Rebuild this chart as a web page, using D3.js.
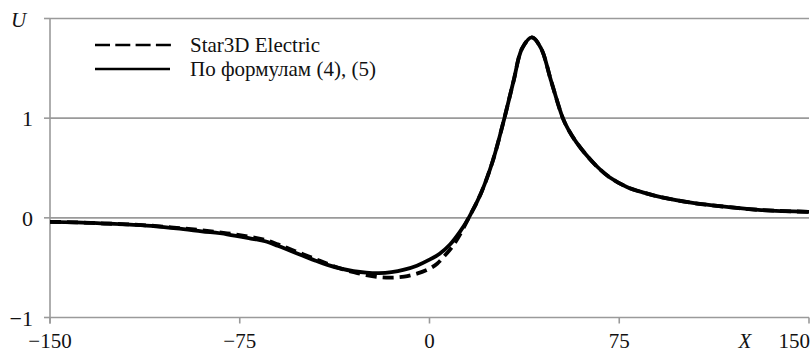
<!DOCTYPE html>
<html><head><meta charset="utf-8">
<script src="https://cdn.jsdelivr.net/npm/d3@7"></script>
<style>body{margin:0;background:#fff}svg{display:block}</style>
</head><body><svg id="c" width="811" height="354" font-family="'Liberation Serif', 'DejaVu Serif', serif"></svg>
<script>
const formulaX = [-150,-140,-130,-120,-110,-100,-90,-80,-70,-65,-60,-55,-50,-45,-40,-35,-30,-25,-20,-15,-10,-5,0,4,8,12,15.5,20.4,25,29.6,33.2,36.6,40.5,44.1,48.1,52.7,55,58,62,66,71,78,85,91,104,117.5,130,150];
const formulaU = [-0.040,-0.045,-0.055,-0.065,-0.08,-0.105,-0.135,-0.165,-0.21,-0.235,-0.28,-0.33,-0.38,-0.43,-0.475,-0.51,-0.535,-0.55,-0.555,-0.545,-0.52,-0.48,-0.42,-0.36,-0.27,-0.14,0.0,0.25,0.57,1.0,1.37,1.70,1.81,1.70,1.37,1.0,0.88,0.76,0.63,0.52,0.41,0.31,0.25,0.21,0.15,0.11,0.08,0.06];
const starX = [-150,-140,-130,-120,-110,-100,-90,-80,-70,-65,-60,-55,-50,-45,-40,-35,-30,-25,-20,-15,-10,-5,0,3,6,9,12,15.5,20.4,25,29.6,33.2,36.6,40.5,44.1,48.1,52.7,55,58,62,66,71,78,85,91,104,117.5,130,150];
const starU = [-0.040,-0.045,-0.055,-0.065,-0.078,-0.10,-0.125,-0.155,-0.195,-0.22,-0.265,-0.315,-0.365,-0.415,-0.465,-0.51,-0.545,-0.575,-0.595,-0.60,-0.59,-0.56,-0.51,-0.46,-0.38,-0.29,-0.17,0.0,0.25,0.57,1.0,1.37,1.70,1.81,1.70,1.37,1.0,0.88,0.76,0.63,0.52,0.41,0.31,0.25,0.21,0.15,0.11,0.08,0.06];
const xTicks = [-150,-75,0,75,150];
const xTickLabels = ["\u2212150","\u221275","0","75","150"];
const yGrid = [2,1,0,-1];
const yTicks = [1,0,-1];
const yTickLabels = ["1","0","\u22121"];
const legendLabels = ["Star3D Electric","По формулам (4), (5)"];

const svg = d3.select("#c");
const x = d3.scaleLinear().domain([-150,150]).range([50,809]);
const y = d3.scaleLinear().domain([-1,2]).range([317.5,18.5]);
const grey = "#9a9a9a";

svg.append("g").selectAll("line").data(yGrid).join("line")
  .attr("x1",50).attr("x2",809).attr("y1",d=>y(d)).attr("y2",d=>y(d))
  .attr("stroke",grey).attr("stroke-width",1.6);
svg.append("line").attr("x1",50).attr("x2",50).attr("y1",y(2)).attr("y2",y(-1)+6)
  .attr("stroke",grey).attr("stroke-width",1.6);
svg.append("g").selectAll("line").data(yGrid).join("line")
  .attr("x1",44).attr("x2",50).attr("y1",d=>y(d)).attr("y2",d=>y(d))
  .attr("stroke",grey).attr("stroke-width",1.6);
svg.append("g").selectAll("line").data(xTicks).join("line")
  .attr("x1",d=>x(d)).attr("x2",d=>x(d)).attr("y1",y(-1)).attr("y2",y(-1)+6)
  .attr("stroke",grey).attr("stroke-width",1.6);

svg.append("g").selectAll("text").data(yTicks).join("text")
  .attr("x",33).attr("y",d=>y(d)+8).attr("text-anchor","end")
  .attr("font-size",22).attr("fill","#111").text((d,i)=>yTickLabels[i]);
svg.append("text").attr("x",11).attr("y",27).attr("font-size",21).attr("font-style","italic").attr("fill","#111").text("U");

svg.append("g").selectAll("text").data(xTicks).join("text")
  .attr("x",(d,i)=> i===4 ? 810 : x(d)).attr("y",348)
  .attr("text-anchor",(d,i)=> i===4 ? "end" : "middle")
  .attr("font-size",21).attr("fill","#111").text((d,i)=>xTickLabels[i]);
svg.append("text").attr("x",745).attr("y",348).attr("text-anchor","middle").attr("font-size",21).attr("font-style","italic").attr("fill","#111").text("X");

const line = d3.line().x(d=>x(d[0])).y(d=>y(d[1])).curve(d3.curveCatmullRom.alpha(0.5));
svg.append("path").datum(formulaX.map((v,i)=>[v,formulaU[i]]))
  .attr("d",line).attr("fill","none").attr("stroke","#000").attr("stroke-width",3.8).attr("stroke-linejoin","round");
svg.append("path").datum(starX.map((v,i)=>[v,starU[i]]))
  .attr("d",line).attr("fill","none").attr("stroke","#000").attr("stroke-width",3.8).attr("stroke-dasharray","11,6");

const lg = svg.append("g");
lg.append("line").attr("x1",95).attr("x2",171).attr("y1",45).attr("y2",45).attr("stroke","#000").attr("stroke-width",2.6).attr("stroke-dasharray","15,5.3");
lg.append("line").attr("x1",95).attr("x2",170).attr("y1",69).attr("y2",69).attr("stroke","#000").attr("stroke-width",2.6);
lg.selectAll("text").data(legendLabels).join("text")
  .attr("x",190).attr("y",(d,i)=>52+i*24).attr("font-size",21).attr("fill","#111").text(d=>d);
</script></body></html>
